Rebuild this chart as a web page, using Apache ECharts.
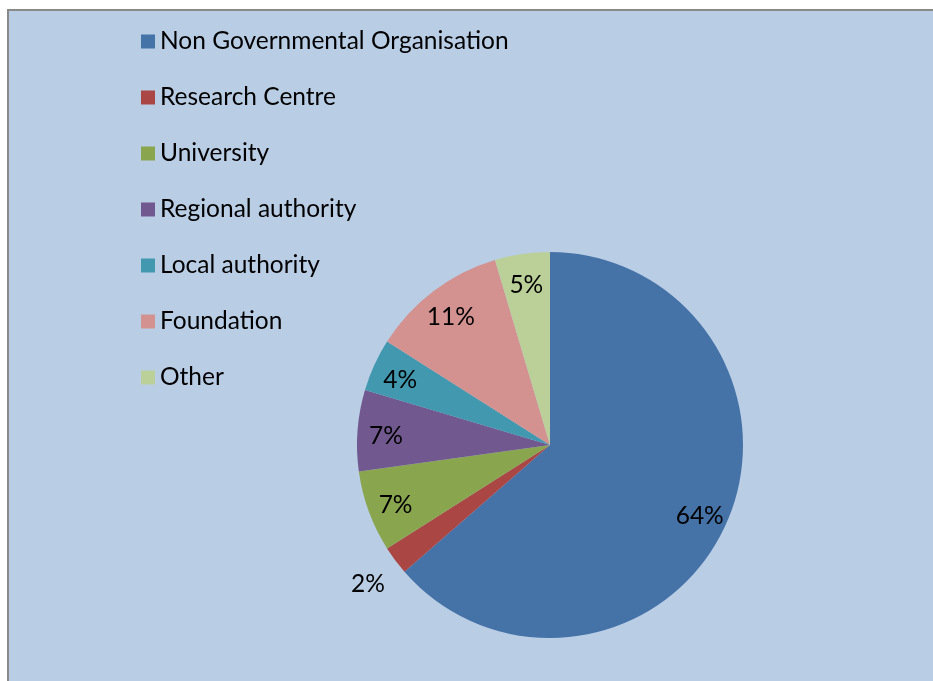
<!DOCTYPE html>
<html>
<head>
<meta charset="utf-8">
<script src="https://cdn.jsdelivr.net/npm/echarts@6/dist/echarts.min.js"></script>
<style>
  html, body { margin: 0; padding: 0; background: #ffffff; }
  #box { position: absolute; left: 7px; top: 9px; width: 940px; height: 690px;
         background: #B9CDE5; border-left: 2px solid #8a8a8a; border-top: 2px solid #8a8a8a; }
  #chart { position: absolute; left: 0; top: 0; width: 933px; height: 681px; }
</style>
</head>
<body>
<div id="box"></div>
<div id="chart"></div>
<script>
const categories = ['Non Governmental Organisation', 'Research Centre', 'University',
  'Regional authority', 'Local authority', 'Foundation', 'Other'];
const shares = [63.6, 2.4, 6.8, 6.8, 4.4, 11.4, 4.6];
const colors = ['#4572A7', '#AA4643', '#89A54E', '#71588F', '#4198AF', '#D39290', '#BBD098'];

const FONT = 'Lato';
const FS = 24.5;
const chart = echarts.init(document.getElementById('chart'), null, { renderer: 'canvas' });

const mainData = categories.map((c, i) => ({ name: c, value: shares[i], itemStyle: { color: colors[i] } }));
const labelFmt = p => Math.round(p.value) + '%';
const labelStyle = { color: '#000', fontFamily: FONT, fontSize: FS, offset: [0, 3] };

chart.setOption({
  animation: false,
  legend: {
    orient: 'vertical',
    left: 136,
    top: 24,
    itemWidth: 14,
    itemHeight: 14,
    itemGap: 31,
    icon: 'rect',
    selectedMode: false,
    data: categories,
    textStyle: { color: '#000', fontFamily: FONT, fontSize: FS, lineHeight: 24 }
  },
  series: [
    {
      type: 'pie',
      center: [550, 445],
      radius: [0, 193],
      startAngle: 90,
      clockwise: true,
      silent: true,
      label: { show: false },
      labelLine: { show: false },
      itemStyle: { borderWidth: 0 },
      data: mainData
    },
    {
      type: 'pie',
      center: [550, 445],
      radius: [130, 193],
      startAngle: 90,
      silent: true,
      itemStyle: { color: 'rgba(0,0,0,0)', borderWidth: 0 },
      label: Object.assign({ show: true, position: 'inside', formatter: labelFmt }, labelStyle),
      labelLine: { show: false },
      data: categories.map((c, i) => ({ name: c, value: shares[i], label: { show: i !== 1 } }))
    },
    {
      type: 'pie',
      center: [550, 445],
      radius: [212, 236],
      startAngle: 90,
      silent: true,
      itemStyle: { color: 'rgba(0,0,0,0)', borderWidth: 0 },
      label: Object.assign({ show: true, position: 'inside', formatter: labelFmt }, labelStyle),
      labelLine: { show: false },
      data: categories.map((c, i) => ({ name: c, value: shares[i], label: { show: i === 1 } }))
    }
  ]
});
</script>
</body>
</html>
